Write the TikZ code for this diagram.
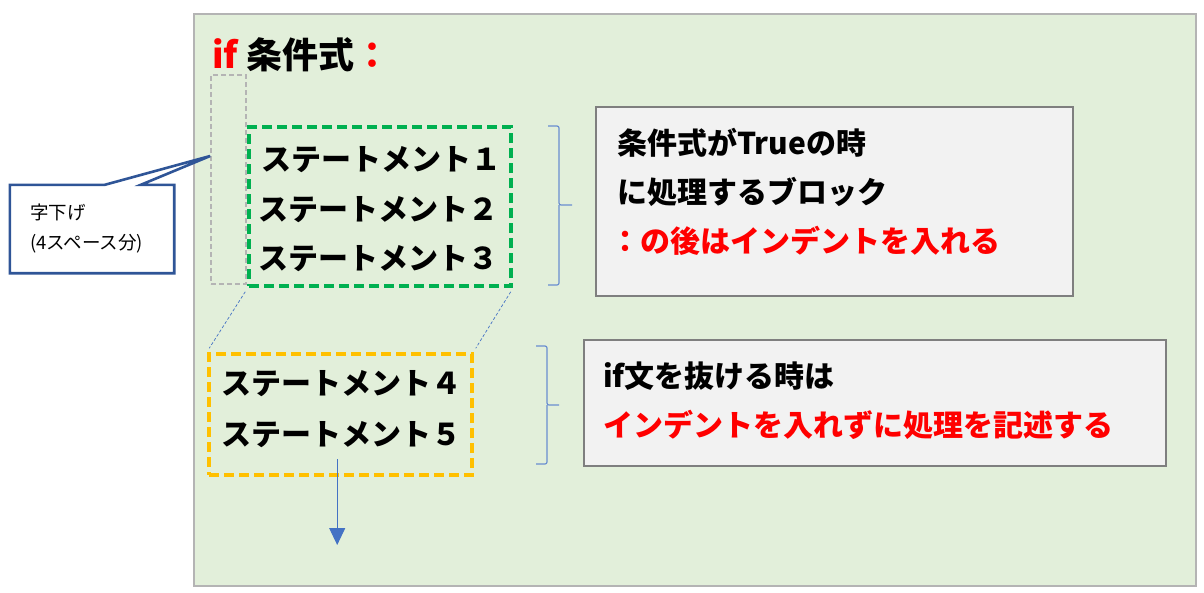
\documentclass[tikz,border=0pt]{standalone}
\usepackage{fontspec}
\setmainfont{Noto Sans CJK JP}
\usepackage{xcolor}
\usepackage{tikz}
\usetikzlibrary{arrows.meta,positioning,calc}
\definecolor{ifpanel}{HTML}{E2EFDA}
\definecolor{ifframe}{HTML}{B4B4B4}
\definecolor{ifnote}{HTML}{F2F2F2}
\definecolor{ifnoteline}{HTML}{7F7F7F}
\definecolor{ifblock}{HTML}{00B050}
\definecolor{ifexit}{HTML}{FFC000}
\definecolor{iflink}{HTML}{4472C4}
\definecolor{ifcall}{HTML}{2F5597}
\definecolor{ifred}{HTML}{FF0000}

\begin{document}
\begin{tikzpicture}[x=1pt,y=-1pt,
  stmt/.style={anchor=west,inner sep=0pt,font=\fontsize{30}{32}\selectfont\bfseries},
  notetext/.style={anchor=west,inner sep=0pt,font=\fontsize{30}{32}\selectfont\bfseries},
  notebox/.style={rectangle,draw=ifnoteline,fill=ifnote,line width=2.2pt,inner sep=0pt},
  codebox/.style={rectangle,line width=3.5pt,dash pattern=on 10pt off 5pt,inner sep=0pt},
  bracket/.style={draw=iflink!80,line width=1.2pt,rounded corners=2pt}]

  \useasboundingbox (0,0) rectangle (1204,592);

  \node[rectangle,draw=ifframe,fill=ifpanel,line width=2.2pt,minimum width=1002pt,
        minimum height=572pt,inner sep=0pt] (panel) at (695,300) {};

  \node[anchor=west,inner sep=0pt,font=\fontsize{36}{40}\selectfont\bfseries]
       (title) at (212,55) {\textcolor{ifred}{if} 条件式\textcolor{ifred}{：}};

  \node[rectangle,draw=ifframe,line width=1.6pt,dash pattern=on 5pt off 3pt,
        minimum width=35pt,minimum height=209pt,inner sep=0pt]
       (indent) at (228.5,179.5) {};

  \node[codebox,draw=ifblock,minimum width=262pt,minimum height=159pt]
       (block) at (380,206.5) {};
  \node[codebox,draw=ifexit,minimum width=263pt,minimum height=121pt]
       (exit) at (340.5,414.5) {};

  \node[stmt] (s1) at (261,160) {ステートメント１};
  \node[stmt] (s2) at (258,210) {ステートメント２};
  \node[stmt] (s3) at (258,259) {ステートメント３};
  \node[stmt] (s4) at (221,384) {ステートメント４};
  \node[stmt] (s5) at (221,435) {ステートメント５};

  \draw[iflink,line width=0.7pt,densely dashed] ([shift={(-2,4)}]block.south west)
       -- ([shift={(2,-4)}]exit.north west);
  \draw[iflink,line width=0.7pt,densely dashed] ([shift={(-2,4)}]block.south east)
       -- ([shift={(2,-4)}]exit.north east);

  \coordinate (flow) at ([xshift=-4pt]s5.south |- 0,545);
  \draw[iflink,line width=1pt,-{Triangle[length=17pt,width=16pt]}]
       ([shift={(-4pt,-11pt)}]s5.south) -- (flow);

  \draw[bracket] (548,126) -- (559,126) -- (559,205) -- (572,205)
       (559,205) -- (559,285) -- (548,285);
  \draw[bracket] (536,346) -- (547,346) -- (547,405) -- (559,405)
       (547,405) -- (547,464) -- (536,464);

  \node[notebox,minimum width=477pt,minimum height=189pt] (whentrue) at (834.5,201.5) {};
  \node[notetext] (t1) at (617,143) {条件式がTrueの時};
  \node[notetext] (t2) at (617,192) {に処理するブロック};
  \node[notetext,text=ifred] (t3) at (610,241) {：の後はインデントを入れる};

  \node[notebox,minimum width=582pt,minimum height=126pt] (leave) at (875,403) {};
  \node[notetext] (u1) at (603,376) {if文を抜ける時は};
  \node[notetext,text=ifred] (u2) at (603,425) {インデントを入れずに処理を記述する};

  \node[rectangle,inner sep=0pt,minimum width=164pt,minimum height=88pt,
        text width=124pt,align=left,font=\fontsize{18.5}{30}\selectfont]
       (call) at (92,229) {字下げ\\(4スペース分)};
  \coordinate (tip) at (indent.west |- 0,156);
  \draw[ifcall,line width=2.6pt] (call.north west) -- ++(95,0) -- (tip)
       -- ($(call.north west)+(131,0)$) -- (call.north east) -- (call.south east)
       -- (call.south west) -- cycle;

\end{tikzpicture}
\end{document}
